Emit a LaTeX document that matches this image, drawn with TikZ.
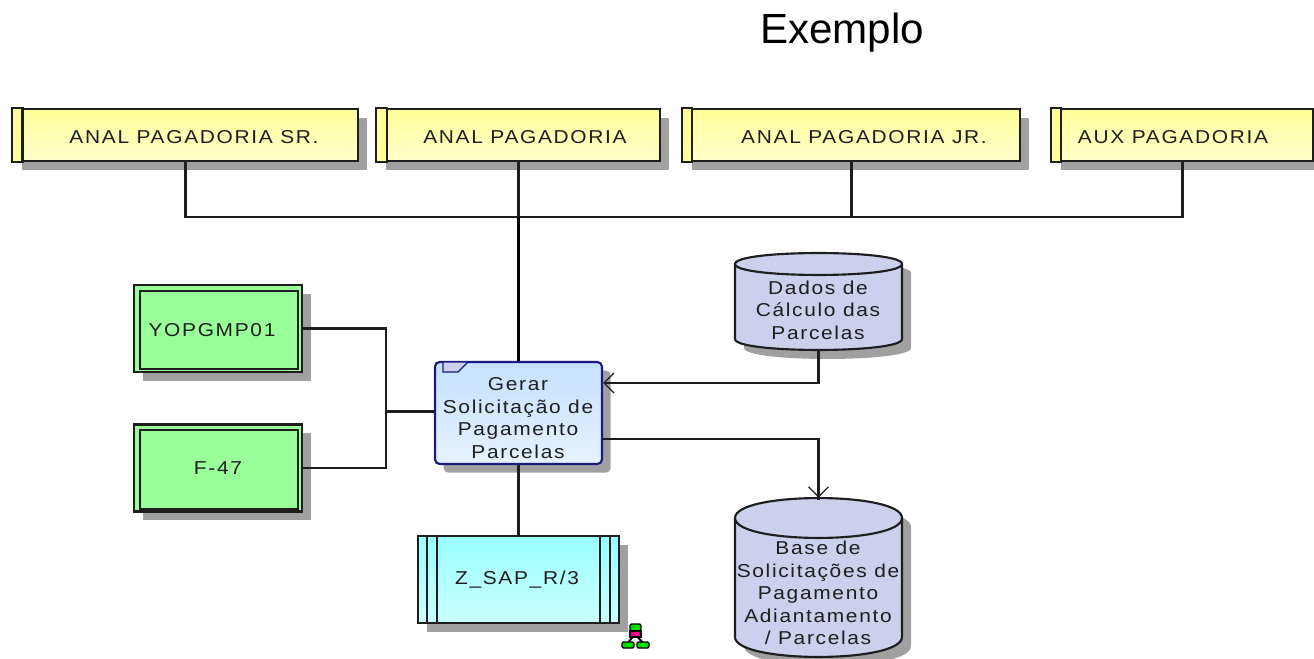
\documentclass[tikz,border=0pt]{standalone}
\usepackage{fontspec}
\usetikzlibrary{arrows.meta,shadows,calc}
\setmainfont{Liberation Sans}
\newfontfamily\dfont[FakeStretch=1.12,LetterSpace=9]{Liberation Sans}
\definecolor{shcol}{HTML}{A0A0A0}
\definecolor{ink}{HTML}{1E1E1E}
\definecolor{cylcol}{HTML}{CCD0EC}
\definecolor{navy}{HTML}{1A1A80}
\definecolor{ytop}{HTML}{FFFF99}
\definecolor{ybot}{HTML}{FFFFCC}
\definecolor{ctop}{HTML}{99FFFF}
\definecolor{cbot}{HTML}{CCFFFF}
\definecolor{gfill}{HTML}{99FF99}
\definecolor{btop}{HTML}{C5E0FF}
\definecolor{bbot}{HTML}{E6F2FF}
\definecolor{icong}{HTML}{00E000}
\def\u{0.75pt}
\tikzset{
  x=0.75pt,y=-0.75pt,
  shad/.style={drop shadow={shadow xshift=6.5pt,shadow yshift=-6.5pt,shadow scale=1,fill=shcol,opacity=1}},
  actorbox/.style={shad,draw=ink,line width=1.6pt,top color=ytop,bottom color=ybot,inner sep=0pt,minimum height=52*\u},
  sysbox/.style={shad,draw=ink,line width=1.6pt,fill=gfill,inner sep=0pt,minimum width=168*\u,minimum height=87*\u},
  taskbox/.style={shad,draw=navy,line width=1.6pt,rounded corners=3.5pt,top color=btop,bottom color=bbot,inner sep=0pt,minimum width=167*\u,minimum height=102*\u},
  appbox/.style={shad,draw=ink,line width=1.6pt,top color=ctop,bottom color=cbot,inner sep=0pt,minimum width=201*\u,minimum height=87*\u},
  ghost/.style={inner sep=0pt,minimum width=167*\u},
  lbl/.style={inner sep=0pt,align=center,text=ink,font=\dfont\fontsize{14}{16.9}\selectfont},
  conn/.style={draw=ink,line width=1.6pt},
  heavy/.style={draw=black,line width=2.8pt},
  crow/.style={conn,-{Straight Barb[length=7.5pt,width=15pt,line width=1pt]}},
}
% x1 x2 ytop ybot(centre of lower arc) ry
\newcommand{\cylshape}[5]{%
  \fill[shcol] (#1+9,#3+9) .. controls (#1+9,#3+9-1.33*#5) and (#2+9,#3+9-1.33*#5) .. (#2+9,#3+9)
     -- (#2+9,#4+9) .. controls (#2+9,#4+9+1.33*#5) and (#1+9,#4+9+1.33*#5) .. (#1+9,#4+9) -- cycle;
  \filldraw[fill=cylcol,draw=ink,line width=1.6pt] (#1,#3) .. controls (#1,#3-1.33*#5) and (#2,#3-1.33*#5) .. (#2,#3)
     -- (#2,#4) .. controls (#2,#4+1.33*#5) and (#1,#4+1.33*#5) .. (#1,#4) -- cycle;
  \draw[ink,line width=1.6pt] (#1,#3) .. controls (#1,#3+1.33*#5) and (#2,#3+1.33*#5) .. (#2,#3);
}
\begin{document}
\begin{tikzpicture}
\useasboundingbox (0,0) rectangle (1314,659);
\fill[white] (0,0) rectangle (1314,659);
\node[inner sep=0pt,font=\fontsize{31.6}{36}\selectfont,text=black] (title) at (842,33) {Exemplo};

% actors
\node[actorbox,minimum width=345*\u] (a1) at (185.5,135) {};
\node[actorbox,minimum width=283*\u] (a2) at (518.5,135) {};
\node[actorbox,minimum width=337*\u] (a3) at (851.5,135) {};
\node[actorbox,minimum width=261*\u] (a4) at (1182.5,135) {};
\foreach \n/\s in {a1/10.5,a2/11,a3/10,a4/10}{
  \draw[conn,fill=ytop] (\n.north west) rectangle ([xshift=\s*\u]\n.south west);
}
\node[lbl] (a1t) at (194,137) {ANAL PAGADORIA SR.};
\node[lbl] (a2t) at (525,137) {ANAL PAGADORIA};
\node[lbl] (a3t) at (864,137) {ANAL PAGADORIA JR.};
\node[lbl] (a4t) at (1173,137) {AUX PAGADORIA};

% systems
\node[sysbox] (g1) at (218,328.5) {};
\node[sysbox] (g2) at (218,468) {};
\foreach \n in {g1,g2}
  \draw[conn] ([shift={(5.2pt,-5.2pt)}]\n.north west) rectangle ([shift={(-3.7pt,3pt)}]\n.south east);
\node[lbl] (g1t) at (212,330) {YOPGMP01};
\node[lbl] (g2t) at (218,468) {F-47};

% application
\node[appbox] (sap) at (518.5,579.5) {};
\foreach \d in {10,20}{
  \draw[conn] ([xshift=\d*\u]sap.north west) -- ([xshift=\d*\u]sap.south west);
  \draw[conn] ([xshift=-\d*\u]sap.north east) -- ([xshift=-\d*\u]sap.south east);
}
\node[lbl] (sapt) at (517,580) {Z\_SAP\_R/3};

% stores
\cylshape{735}{902}{264}{339}{11}
\node[ghost,minimum height=97*\u] (dados) at (818.5,301.5) {};
\node[lbl] (dadost) at (818,310) {Dados de\\Cálculo das\\Parcelas};
\cylshape{735}{902}{518}{637}{20}
\node[ghost,minimum height=159*\u] (base) at (818.5,577.5) {};
\node[lbl] (baset) at (818,593) {Base de\\Solicitações de\\Pagamento\\Adiantamento\\/ Parcelas};

% task
\node[taskbox] (task) at (518.5,413) {};
\filldraw[fill=cylcol,draw=navy,line width=1pt] (443,362) -- (468,362) -- (458,372) -- (443,372) -- cycle;
\node[lbl] (taskt) at (518,418) {Gerar\\Solicitação de\\Pagamento\\Parcelas};

% connectors
\coordinate (bus) at (518.5,217);
\coordinate (j) at (386,411.5);
\foreach \n in {a1,a2,a3,a4} \draw[conn] (\n.south) |- (bus);
\draw[heavy] (bus) -- (task.north);
\draw[conn] (g1.east) -| (j);
\draw[conn] (g2.east) -| (j);
\draw[conn] (j) -- (j -| task.west);
\draw[conn] (task.south) -- (sap.north);
\draw[crow] (dados.south) |- ([yshift=22.5pt]task.east);
\draw[conn] ([yshift=-19.5pt]task.east) -| ($(base.north)+(0,-2pt)$);
\draw[crow] ($(base.north)+(0,14pt)$) -- (base.north);

% icon
\draw[black,line width=1.5pt] (635,634) -- (627,644) (635,634) -- (644,644);
\filldraw[fill=icong,draw=black,line width=1.1pt,rounded corners=1pt] (630,624) rectangle (641,631);
\filldraw[fill=magenta,draw=black,line width=1.1pt] (630,631) rectangle (641,637);
\filldraw[fill=icong,draw=black,line width=1.1pt,rounded corners=1pt] (622,642) rectangle (634,648);
\filldraw[fill=icong,draw=black,line width=1.1pt,rounded corners=1pt] (637,642) rectangle (649,648);
\end{tikzpicture}
\end{document}
